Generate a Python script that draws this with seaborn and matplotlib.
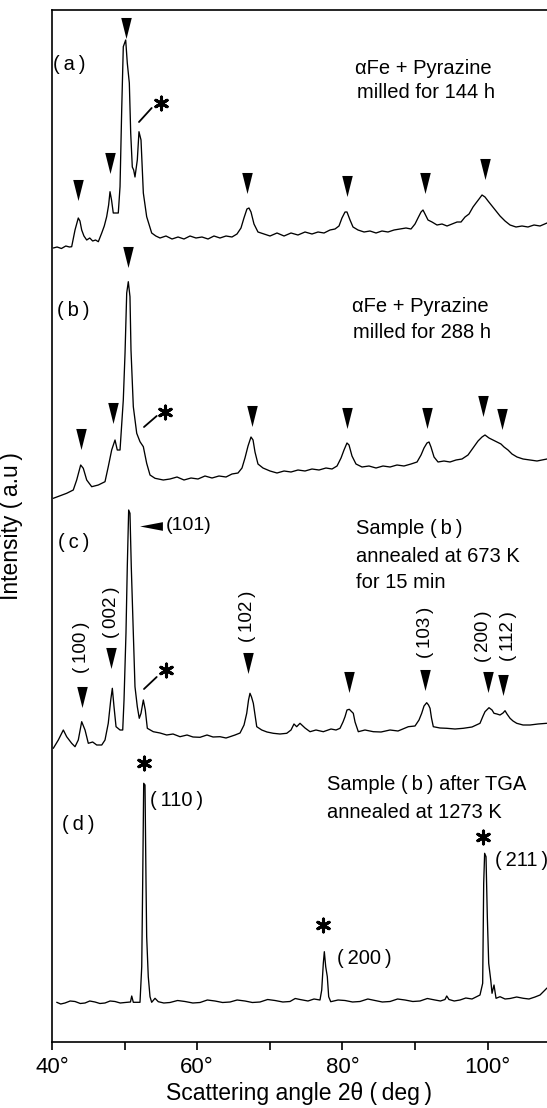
import numpy as np
import pandas as pd
import matplotlib
matplotlib.use("Agg")
import matplotlib.pyplot as plt
import seaborn as sns

# ---------------- data ----------------
# Scattering angle 2theta (deg) and stacked intensity (a.u.)
a_angle = [40.18, 40.7, 41.3, 41.9, 42.4, 42.71, 43.17, 43.62, 43.85, 44.09, 44.4, 44.78, 45.2, 45.6, 46.0,
           46.38, 46.85, 47.2, 47.53, 47.8, 47.99, 48.2, 48.44, 49.13, 49.37, 49.60, 49.82, 50.15, 50.37,
           50.65, 50.84, 51.06, 51.25, 51.43, 51.75, 51.98, 52.26, 52.58, 53.04, 53.73, 54.3, 54.88,
           55.70, 56.53, 57.36, 58.18, 59.01, 59.83, 60.66, 61.49, 62.31, 63.14, 63.97, 64.79, 65.48,
           66.03, 66.44, 66.85, 67.13, 67.41, 67.82, 68.37, 69.20, 70.03, 70.99, 71.96, 72.92, 73.88,
           74.85, 75.81, 76.64, 77.47, 78.29, 78.98, 79.53, 79.94, 80.36, 80.63, 81.05, 81.46, 82.15,
           82.98, 83.80, 84.63, 85.45, 86.28, 87.11, 87.93, 88.76, 89.45, 90.00, 90.41, 90.83, 91.10,
           91.38, 91.79, 92.34, 93.03, 93.72, 94.41, 95.10, 95.79, 96.34, 96.89, 97.44, 97.99, 98.40,
           98.82, 99.23, 99.64, 100.06, 100.61, 101.16, 101.71, 102.40, 103.09, 103.91, 104.74, 105.56,
           106.39, 107.22, 108.18]
a_int = [79.4, 79.5, 79.35, 79.6, 79.5, 79.53, 81.2, 82.4, 82.1, 81.2, 80.6, 80.2, 80.4, 80.1, 80.2,
         80.03, 80.9, 81.6, 82.53, 83.7, 85.03, 84.2, 82.9, 82.9, 85.53, 93.2, 99.53, 100.2, 97.9,
         95.9, 90.9, 87.5, 87.2, 86.5, 88.2, 91.03, 90.2, 84.9, 82.53, 80.9, 80.6, 80.4,
         80.6, 80.3, 80.5, 80.3, 80.6, 80.4, 80.5, 80.3, 80.6, 80.4, 80.6, 80.5, 80.8,
         81.4, 82.4, 83.3, 83.4, 83.0, 81.8, 81.0, 80.8, 80.6, 80.9, 80.6, 80.9, 80.7,
         81.0, 80.8, 81.0, 80.9, 81.2, 81.3, 81.6, 82.4, 83.0, 83.0, 82.2, 81.5, 81.2,
         81.0, 81.1, 80.9, 81.1, 81.0, 81.2, 81.3, 81.4, 81.3, 81.8, 82.4, 83.0, 83.2,
         82.8, 82.2, 82.0, 81.7, 81.8, 81.6, 81.8, 82.0, 82.0, 82.5, 82.8, 83.5, 83.9,
         84.3, 84.7, 84.5, 84.1, 83.6, 83.1, 82.6, 82.1, 81.7, 81.5, 81.6, 81.5,
         81.7, 81.6, 81.9]

b_angle = [40.18, 42.02, 42.93, 43.40, 43.95, 44.31, 44.78, 45.47, 46.38, 47.30, 47.75, 48.22, 48.68,
           48.99, 49.37, 49.82, 50.06, 50.29, 50.51, 50.74, 50.88, 51.20, 51.67, 52.12, 52.58, 53.04,
           53.50, 54.19, 55.33, 56.25, 57.22, 58.18, 59.15, 60.11, 61.07, 62.04, 63.00, 63.97, 64.79,
           65.62, 66.17, 66.58, 67.00, 67.41, 67.69, 67.96, 68.37, 69.06, 70.03, 70.99, 71.96, 72.92,
           73.88, 74.85, 75.81, 76.78, 77.74, 78.57, 79.26, 79.81, 80.22, 80.63, 80.91, 81.32, 81.87,
           82.70, 83.66, 84.63, 85.59, 86.56, 87.52, 88.48, 89.45, 90.28, 90.83, 91.24, 91.65, 91.93,
           92.20, 92.62, 93.17, 93.99, 94.82, 95.65, 96.47, 97.30, 97.99, 98.68, 99.23, 99.64, 100.19,
           100.74, 101.29, 101.84, 102.26, 102.81, 103.36, 104.05, 104.88, 105.84, 106.80, 108.18]
b_int = [54.37, 54.87, 55.2, 56.2, 57.7, 57.37, 56.2, 55.53, 55.7, 56.03, 57.53, 59.2, 60.2,
         59.2, 59.2, 64.2, 68.9, 74.9, 76.03, 74.53, 69.2, 63.53, 60.87, 60.03, 59.53, 57.87,
         56.7, 56.37, 56.2, 56.3, 56.5, 56.2, 56.4, 56.3, 56.6, 56.4, 56.6, 56.5, 56.8,
         56.9, 57.4, 58.4, 59.6, 60.5, 60.2, 59.0, 57.8, 57.4, 57.1, 56.9, 57.1, 57.0,
         57.2, 57.1, 57.3, 57.2, 57.4, 57.3, 57.6, 58.4, 59.2, 59.9, 59.7, 58.6, 57.8,
         57.5, 57.6, 57.4, 57.6, 57.5, 57.7, 57.6, 57.8, 58.0, 58.7, 59.4, 59.9, 60.0,
         59.5, 58.5, 58.0, 58.1, 58.0, 58.2, 58.3, 58.7, 59.4, 60.1, 60.5, 60.7, 60.4,
         60.2, 60.0, 59.8, 59.5, 59.2, 58.8, 58.5, 58.3, 58.2, 58.1, 58.3]

c_angle = [40.18, 40.87, 41.56, 42.02, 42.71, 43.17, 43.62, 44.09, 44.55, 45.00, 45.6, 46.16, 46.85,
           47.30, 47.75, 48.09, 48.31, 48.54, 48.82, 49.37, 49.74, 49.92, 50.19, 50.37, 50.56, 50.74,
           50.92, 51.20, 51.43, 51.75, 52.02, 52.26, 52.58, 52.85, 53.13, 53.95, 54.88, 55.80, 56.67,
           57.63, 58.60, 59.42, 60.39, 61.35, 62.18, 63.14, 63.97, 64.52, 65.21, 65.90, 66.45, 66.82,
           67.07, 67.27, 67.48, 67.73, 68.20, 68.89, 69.61, 70.48, 71.40, 72.33, 72.92, 73.33, 73.70,
           74.16, 74.85, 75.54, 76.36, 77.37, 78.43, 79.12, 79.67, 80.08, 80.36, 80.63, 80.95, 81.18,
           81.50, 81.74, 82.19, 83.11, 84.26, 85.32, 86.56, 87.66, 89.08, 90.00, 90.55, 90.92, 91.24,
           91.61, 91.86, 92.07, 92.27, 92.52, 93.44, 94.37, 95.51, 96.65, 97.85, 98.95, 99.37, 99.64,
           100.19, 100.61, 100.88, 101.29, 101.71, 102.12, 102.40, 102.67, 103.09, 103.50, 104.01,
           104.88, 105.84, 106.94, 108.14]
c_int = [29.37, 30.2, 31.2, 30.53, 29.87, 29.53, 30.2, 32.03, 31.2, 29.87, 30.0, 29.7, 29.7,
         30.2, 31.87, 34.2, 35.37, 33.53, 31.53, 31.2, 31.2, 34.2, 40.9, 47.53, 53.2, 52.87,
         47.53, 40.9, 35.53, 33.53, 32.37, 32.87, 34.2, 33.2, 31.37, 31.03, 30.9, 30.7, 30.8,
         30.53, 30.7, 30.5, 30.47, 30.7, 30.5, 30.53, 30.4, 30.53, 30.7, 30.9, 31.7, 32.87,
         34.2, 34.87, 34.5, 33.87, 31.53, 31.2, 31.0, 30.87, 30.8, 30.87, 31.2, 31.8, 31.53,
         31.87, 31.4, 31.03, 31.2, 31.03, 31.3, 31.2, 31.37, 32.0, 32.53, 33.2, 33.27, 33.1,
         32.87, 32.0, 31.03, 31.2, 31.03, 31.0, 31.2, 31.1, 31.53, 31.6, 32.2, 32.87, 33.6,
         33.93, 33.7, 33.37, 32.4, 31.53, 31.4, 31.37, 31.3, 31.37, 31.5, 31.87, 32.6, 33.03,
         33.43, 33.2, 32.87, 32.8, 32.7, 32.9, 33.13, 32.8, 32.37, 32.1, 31.87,
         31.7, 31.7, 31.8, 31.87]

d_angle = [40.65, 41.2, 41.79, 42.5, 43.17, 43.9, 44.55, 45.2, 45.92, 46.6, 47.30, 48.0, 48.68, 49.4,
           50.06, 50.81, 50.98, 51.20, 52.12, 52.36, 52.49, 52.63, 52.81, 52.95, 53.04, 53.26, 53.50,
           53.73, 54.19, 54.64, 55.4, 56.25, 57.3, 58.32, 59.4, 60.39, 61.4, 62.45, 63.5, 64.52, 65.5,
           66.58, 67.6, 68.65, 69.7, 70.72, 71.8, 72.78, 73.5, 74.16, 75.26, 76.09, 76.91, 77.15, 77.37,
           77.51, 77.70, 77.92, 78.11, 78.39, 79.4, 80.36, 81.4, 82.42, 83.5, 84.49, 85.5, 86.56, 87.6,
           88.62, 89.7, 90.69, 91.7, 92.75, 93.5, 94.13, 94.37, 94.68, 95.4, 96.20, 97.0, 97.85, 98.95,
           99.32, 99.46, 99.59, 99.78, 99.96, 100.15, 100.43, 100.61, 100.88, 101.16, 101.71, 102.4,
           103.09, 104.0, 104.92, 105.7, 106.53, 107.22, 107.91, 108.18]
d_int = [3.97, 3.8, 3.9, 4.1, 4.05, 3.85, 3.9, 4.1, 4.0, 3.85, 3.9, 4.1, 4.05, 3.9,
         3.95, 4.0, 4.6, 3.97, 3.97, 7.53, 15.9, 25.87, 25.7, 15.9, 10.53, 6.53, 4.53,
         3.97, 4.37, 4.03, 3.9, 3.95, 4.15, 4.05, 3.9, 3.95, 4.2, 4.1, 3.95, 4.0, 4.2,
         4.1, 3.95, 4.0, 4.25, 4.15, 4.0, 4.05, 4.35, 4.25, 4.1, 4.3, 4.2, 5.2, 7.87,
         9.03, 7.53, 6.53, 4.53, 4.03, 4.2, 4.15, 4.0, 4.05, 4.3, 4.15, 4.0, 4.05, 4.3,
         4.2, 4.05, 4.1, 4.35, 4.2, 4.1, 4.25, 4.6, 4.25, 4.1, 4.2, 4.4, 4.3, 4.7,
         5.87, 15.87, 18.87, 18.53, 12.53, 7.87, 6.2, 4.87, 5.7, 4.37, 4.53, 4.3,
         4.35, 4.5, 4.37, 4.3, 4.5, 4.7, 5.2, 5.4]

# reflection markers (peak angle, marker height)
a_mark_x = [43.62, 47.99, 50.15, 66.82, 80.59, 91.38, 99.64]
a_mark_y = [85.2, 87.95, 101.45, 85.95, 85.6, 85.9, 87.3]
b_mark_x = [43.95, 48.44, 50.51, 67.51, 80.68, 91.61, 99.41, 102.03]
b_mark_y = [60.3, 62.9, 78.5, 62.6, 62.45, 62.45, 63.6, 62.3]
c_mark_x = [44.09, 48.09, 67.04, 80.95, 91.38, 100.01, 102.16]
c_mark_y = [34.5, 38.4, 37.9, 36.0, 36.2, 36.0, 35.7]
c_hkl = ["(\u2009100\u2009)", "(\u2009002\u2009)", "(\u2009102\u2009)",
         "(\u2009103\u2009)", "(\u2009200\u2009)", "(\u2009112\u2009)"]
c_hkl_x = [44.09, 48.13, 66.90, 91.38, 99.41, 102.85]
c_hkl_y = [39.5, 43.0, 42.6, 41.0, 40.6, 40.6]
d_star_x = [52.71, 77.37, 99.41]
d_star_y = [27.9, 11.7, 20.5]
d_hkl = ["(\u2009110\u2009)", "(\u2009200\u2009)", "(\u2009211\u2009)"]

x_ticks = [40, 60, 80, 100]
x_minor = [50, 70, 90]
x_ticklabels = ["40°", "60°", "80°", "100°"]

# ---------------- figure ----------------
sns.set_theme(style="white")
plt.rcParams["font.family"] = ["Liberation Sans", "DejaVu Sans"]
plt.rcParams["text.color"] = "black"

fig = plt.figure(figsize=(5.47, 11.08), dpi=100)
ax = fig.add_axes([52 / 547, 66 / 1108, 1 - 52 / 547, (1042 - 10) / 1108])

frames = []
for name, xs, ys in [("a", a_angle, a_int), ("b", b_angle, b_int),
                     ("c", c_angle, c_int), ("d", d_angle, d_int)]:
    frames.append(pd.DataFrame({"angle": xs, "intensity": ys, "pattern": name}))
df = pd.concat(frames, ignore_index=True)

sns.lineplot(data=df, x="angle", y="intensity", units="pattern", estimator=None,
             sort=False, color="black", linewidth=0.95, legend=False, ax=ax)

tri = [(-0.5, 1.0), (0.5, 1.0), (0.0, -1.0)]
ax.scatter(a_mark_x + b_mark_x + c_mark_x, a_mark_y + b_mark_y + c_mark_y,
           marker=tri, s=230, color="black", linewidths=0, zorder=3)

# left-pointing arrow for (101)
ax.scatter([53.61], [51.6], marker=[(1.0, -0.38), (1.0, 0.38), (-1.0, 0.0)], s=270,
           color="black", linewidths=0, zorder=3)
ax.text(55.7, 51.6, "(101)", fontsize=14, va="center", ha="left")

# asterisks
star = (6, 2, 0)
ax.scatter([54.97, 55.56, 55.70] + d_star_x, [93.9, 63.0, 37.2] + d_star_y,
           marker=star, s=85, color="black", linewidths=2.2, zorder=3)
for (x0, y0, x1, y1) in [(51.98, 92.0, 53.73, 93.4), (52.67, 61.5, 54.42, 62.6),
                         (52.67, 35.3, 54.42, 36.5)]:
    ax.plot([x0, x1], [y0, y1], color="black", lw=1.3)

fs = 14.5
# panel letters
ax.text(40.15, 97.7, "(\u2009a\u2009)", fontsize=fs, va="center", ha="left")
ax.text(40.65, 73.2, "(\u2009b\u2009)", fontsize=fs, va="center", ha="left")
ax.text(40.83, 50.0, "(\u2009c\u2009)", fontsize=fs, va="center", ha="left")
ax.text(41.34, 21.8, "(\u2009d\u2009)", fontsize=fs, va="center", ha="left")

# descriptions
ax.text(81.74, 97.4, "αFe + Pyrazine", fontsize=fs, va="center", ha="left")
ax.text(82.0, 95.0, "milled for 144 h", fontsize=fs, va="center", ha="left")
ax.text(81.32, 73.6, "αFe + Pyrazine", fontsize=fs, va="center", ha="left")
ax.text(81.42, 71.0, "milled for 288 h", fontsize=fs, va="center", ha="left")
ax.text(81.87, 51.3, "Sample (\u2009b\u2009)", fontsize=fs, va="center", ha="left")
ax.text(81.87, 48.55, "annealed at 673 K", fontsize=fs, va="center", ha="left")
ax.text(81.87, 46.0, "for 15 min", fontsize=fs, va="center", ha="left")
ax.text(77.92, 25.7, "Sample (\u2009b\u2009) after TGA", fontsize=fs, va="center", ha="left")
ax.text(77.92, 23.0, "annealed at 1273 K", fontsize=fs, va="center", ha="left")

# (c) hkl labels, rotated
for lab, x, y in zip(c_hkl, c_hkl_x, c_hkl_y):
    ax.text(x, y, lab, fontsize=13.5, rotation=90, va="center", ha="center")

# (d) hkl labels
for lab, x, y in zip(d_hkl, [53.50, 79.21, 101.02], [24.2, 8.3, 18.2]):
    ax.text(x, y, lab, fontsize=fs, va="center", ha="left")

ax.set_xlim(40, 108.18)
ax.set_ylim(0, 103.2)
ax.set_xticks(x_ticks)
ax.set_xticklabels(x_ticklabels)
ax.set_xticks(x_minor, minor=True)
ax.set_yticks([])
ax.tick_params(axis="x", which="both", direction="out", length=6, width=1.2,
               colors="black", labelsize=16, pad=5, bottom=True)
ax.set_xlabel("Scattering angle 2θ (\u2009deg\u2009)", fontsize=16.5, labelpad=3)
ax.set_ylabel("Intensity (\u2009a.u\u2009)", fontsize=16.5)
ax.yaxis.set_label_coords(-0.058, 0.5)
ax.xaxis.label.set_color("black")
ax.yaxis.label.set_color("black")

for side in ["left", "bottom", "top"]:
    ax.spines[side].set_visible(True)
    ax.spines[side].set_color("black")
    ax.spines[side].set_linewidth(1.2)
ax.spines["right"].set_visible(False)
ax.set_facecolor("white")
fig.patch.set_facecolor("white")

fig.savefig("out.png", dpi=100)
